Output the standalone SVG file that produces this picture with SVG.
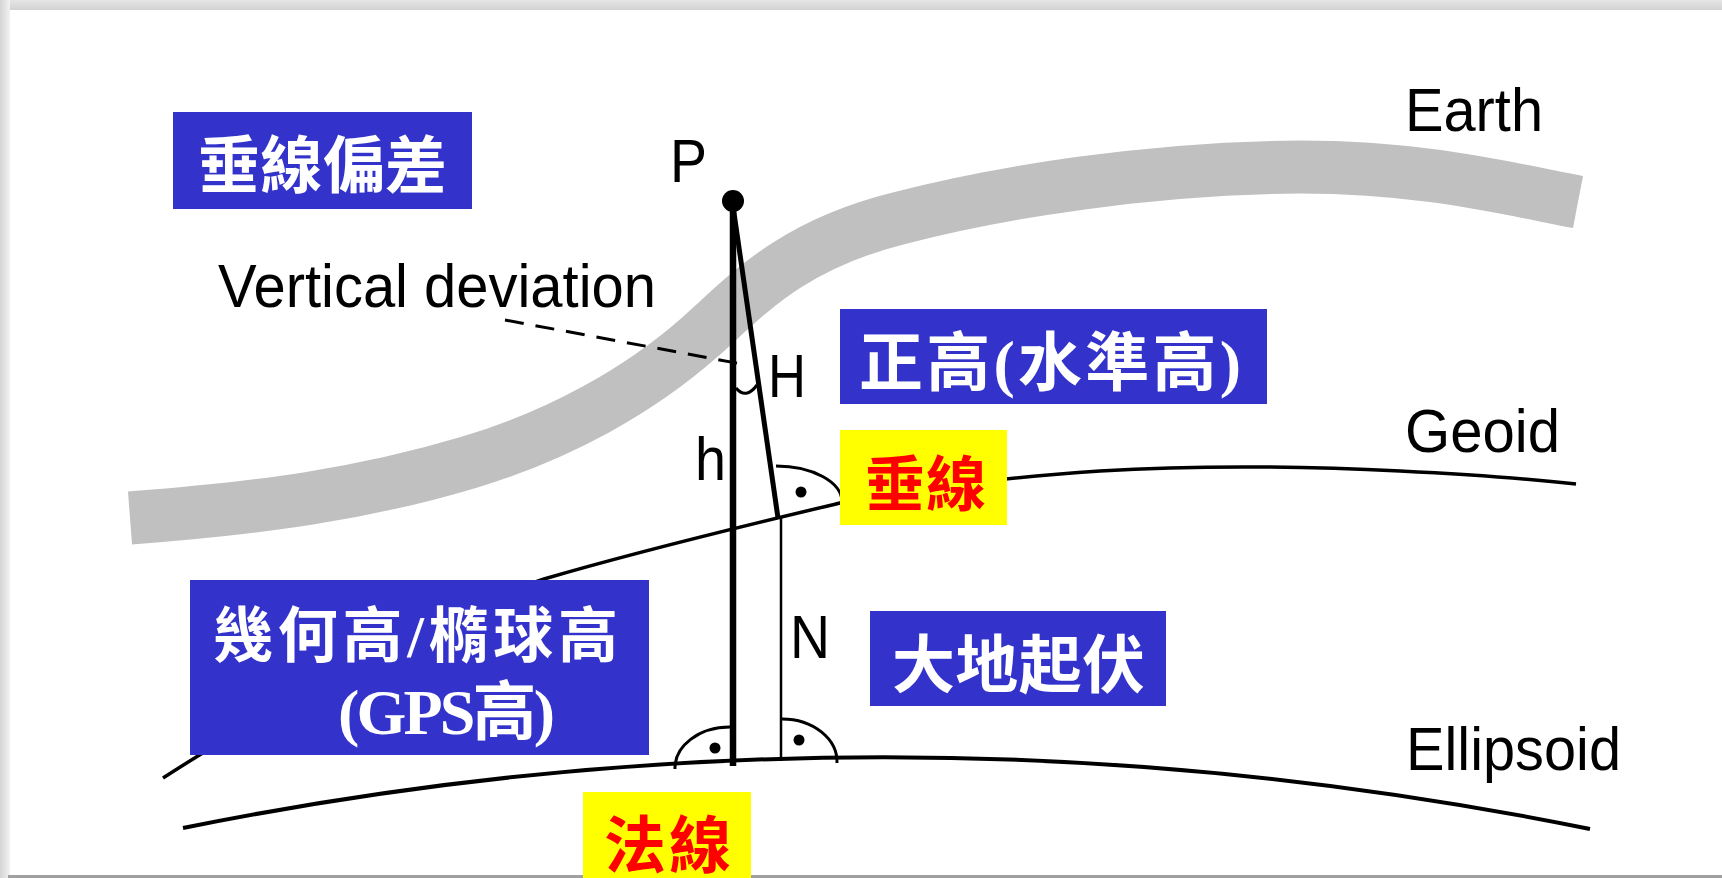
<svg xmlns="http://www.w3.org/2000/svg" width="1722" height="878" viewBox="0 0 1722 878">
  <defs>
    <linearGradient id="topShade" x1="0" y1="0" x2="0" y2="1">
      <stop offset="0" stop-color="#e6e6e6"/>
      <stop offset="1" stop-color="#d2d2d2"/>
    </linearGradient>
    <linearGradient id="leftShade" x1="0" y1="0" x2="1" y2="0">
      <stop offset="0" stop-color="#d4d4d4"/>
      <stop offset="1" stop-color="#f2f2f2"/>
    </linearGradient>
    <style>
      .lat { font-family: "Liberation Sans", Arial, sans-serif; font-size: 62px; fill: #000; }
      .cjk { font-family: "Liberation Serif", "Noto Sans CJK TC", serif; font-weight: 700; }
      .blue { fill: #3333cc; }
      .yellow { fill: #ffff00; }
      .wt { fill: #ffffff; }
      .rd { fill: #ff0000; }
      .ln { fill: none; stroke: #000; stroke-linecap: butt; stroke-linejoin: round; }
      .dot { fill: #000; }
    </style>
  </defs>

  <!-- page and its soft frame -->
  <rect x="0" y="0" width="1722" height="878" fill="#ffffff"/>
  <rect x="0" y="0" width="1722" height="10" fill="url(#topShade)"/>
  <rect x="0" y="0" width="10" height="878" fill="url(#leftShade)"/>
  <rect x="8" y="875" width="1714" height="3" fill="#a0a0a0"/>

  <!-- Earth surface band -->
  <g id="earth">
    <path d="M130,518 C260,508 360,495 470,462 C560,435 640,390 700,337 C745,297 790,245 900,218 C1000,192 1150,168 1300,167 C1420,167 1500,187 1578,202" fill="none" stroke="#c0c0c0" stroke-width="53"/>
  </g>

  <!-- reference surfaces and height lines -->
  <g id="connectors">
    <path id="geoid" class="ln" stroke-width="3.5" d="M163,778 C300,690 450,610 544,579 C650,548 760,522 840,503 C920,487 1000,478 1100,471 C1200,465 1300,466 1400,471 C1480,475 1540,480 1576,484"/>
    <path id="ellipsoid" class="ln" stroke-width="4" d="M183,828 Q886,686 1590,829"/>
    <path id="deviation-leader" class="ln" stroke-width="3" stroke-dasharray="19 12" d="M505,320 L747,365"/>
    <path id="deviation-angle" class="ln" stroke-width="3" d="M736,388 Q746,400 757,385"/>
    <path id="plumb-line" class="ln" stroke-width="5" d="M733,206 L778,518"/>
    <path id="normal-line" class="ln" stroke-width="6.5" d="M733,202 L733,766"/>
    <path id="undulation-line" class="ln" stroke-width="2.5" d="M781,517 L781,761"/>
    <!-- right-angle marks -->
    <path class="ln" stroke-width="3" d="M776,466 A66,36 0 0 1 842,502"/>
    <circle class="dot" cx="801" cy="492" r="5.5"/>
    <path class="ln" stroke-width="3" d="M675,769 A55,41 0 0 1 730,727"/>
    <circle class="dot" cx="715" cy="748" r="5.5"/>
    <path class="ln" stroke-width="3" d="M782,719 A55,43 0 0 1 837,763"/>
    <circle class="dot" cx="799" cy="740" r="5.5"/>
  </g>

  <!-- point P -->
  <g id="point-p">
    <circle class="dot" cx="733" cy="201" r="11"/>
    <text class="lat" x="670" y="182" textLength="37" lengthAdjust="spacingAndGlyphs">P</text>
  </g>

  <!-- line and surface labels -->
  <g id="label-earth"><text class="lat" x="1405" y="131" textLength="138" lengthAdjust="spacingAndGlyphs">Earth</text></g>
  <g id="label-geoid"><text class="lat" x="1405" y="452" textLength="155" lengthAdjust="spacingAndGlyphs">Geoid</text></g>
  <g id="label-ellipsoid"><text class="lat" x="1406" y="770" textLength="215" lengthAdjust="spacingAndGlyphs">Ellipsoid</text></g>
  <g id="label-vertical-deviation"><text class="lat" x="218" y="307" textLength="438" lengthAdjust="spacingAndGlyphs">Vertical deviation</text></g>
  <g id="label-H"><text class="lat" x="768" y="397" textLength="38" lengthAdjust="spacingAndGlyphs">H</text></g>
  <g id="label-h"><text class="lat" x="695" y="480" textLength="31" lengthAdjust="spacingAndGlyphs">h</text></g>
  <g id="label-N"><text class="lat" x="790" y="658" textLength="40" lengthAdjust="spacingAndGlyphs">N</text></g>

  <!-- Chinese term boxes -->
  <g id="box-deflection">
    <rect class="blue" x="173" y="112" width="299" height="97"/>
    <text class="cjk wt" x="198" y="188" font-size="62" textLength="249">垂線偏差</text>
  </g>
  <g id="box-orthometric">
    <rect class="blue" x="840" y="309" width="427" height="95"/>
    <text class="cjk wt" x="859" y="385" font-size="64" textLength="382">正高(水準高)</text>
  </g>
  <g id="box-plumb">
    <rect class="yellow" x="840" y="430" width="167" height="95"/>
    <text class="cjk rd" x="865" y="506" font-size="60" textLength="121">垂線</text>
  </g>
  <g id="box-ellipsoidal">
    <rect class="blue" x="190" y="580" width="459" height="175"/>
    <text class="cjk wt" x="213" y="657" font-size="60" textLength="405">幾何高/橢球高</text>
    <text class="cjk wt" x="338" y="734" font-size="64" textLength="217">(GPS高)</text>
  </g>
  <g id="box-undulation">
    <rect class="blue" x="870" y="611" width="296" height="95"/>
    <text class="cjk wt" x="892" y="687" font-size="63" textLength="253">大地起伏</text>
  </g>
  <g id="box-normal">
    <rect class="yellow" x="583" y="792" width="168" height="86"/>
    <text class="cjk rd" x="604" y="868" font-size="62" textLength="127">法線</text>
  </g>
</svg>
